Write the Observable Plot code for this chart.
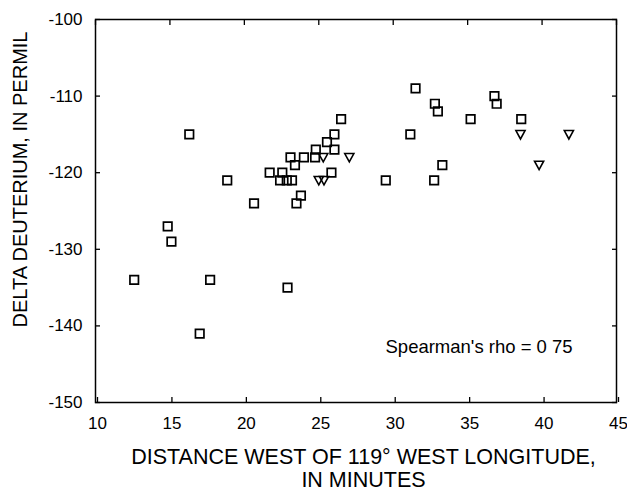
<!DOCTYPE html>
<html>
<head>
<meta charset="utf-8">
<script src="https://cdn.jsdelivr.net/npm/d3@7"></script>
<script src="https://cdn.jsdelivr.net/npm/@observablehq/plot@0.6"></script>
<style>
  html, body { margin: 0; padding: 0; background: #fff; }
  #chart { width: 627px; height: 496px; overflow: hidden; }
</style>
</head>
<body>
<div id="chart"></div>
<script>
// Squares (open)
const sqX = [12.6, 14.85, 15.1, 16.3, 17.0, 17.7, 18.85, 20.65, 21.7, 22.55, 22.4, 22.85, 23.2, 22.9, 23.1, 23.4, 23.5, 23.8, 24.0, 24.75, 24.8, 25.55, 25.85, 26.05, 26.05, 26.5, 29.5, 31.15, 31.5, 32.75, 32.8, 33.0, 33.3, 35.2, 36.8, 36.95, 38.6];
const sqY = [-134, -127, -129, -115, -141, -134, -121, -124, -120, -120, -121, -121, -121, -135, -118, -119, -124, -123, -118, -118, -117, -116, -120, -115, -117, -113, -121, -115, -109, -121, -111, -112, -119, -113, -110, -111, -113];
// Inverted triangles (open)
const triX = [25.0, 25.35, 25.3, 27.05, 38.55, 39.8, 41.8];
const triY = [-121, -121, -118, -118, -115, -119, -115];

const xTicks = [10, 15, 20, 25, 30, 35, 40, 45];
const yTicks = [-150, -140, -130, -120, -110, -100];

const xTitle = "DISTANCE WEST OF 119° WEST LONGITUDE,\nIN MINUTES";
const yTitle = "DELTA DEUTERIUM, IN PERMIL";
const note = "Spearman's rho = 0 75";

const squares = sqX.map((x, i) => ({x, y: sqY[i]}));
const triangles = triX.map((x, i) => ({x, y: triY[i]}));

const triangleDown = {
  draw(context, size) {
    const r = Math.sqrt(size / Math.PI);
    context.moveTo(-0.95 * r, -0.8 * r);
    context.lineTo(0.95 * r, -0.8 * r);
    context.lineTo(0, 0.95 * r);
    context.closePath();
  }
};

const font = "'Liberation Sans', Arial, Helvetica, sans-serif";

const chart = Plot.plot({
  width: 627,
  height: 496,
  marginLeft: 95,
  marginRight: 11,
  marginTop: 19,
  marginBottom: 94,
  x: {domain: [10, 45]},
  y: {domain: [-150, -100]},
  style: {fontFamily: font, background: "#fff", color: "#000"},
  marks: [
    Plot.axisX(xTicks, {anchor: "bottom", tickSize: -5, tickPadding: 19, dx: 2, fontSize: 17, strokeWidth: 1.3, tickFormat: d => String(d), label: null}),
    Plot.axisX(xTicks, {anchor: "top", tickSize: -5, strokeWidth: 1.3, tickFormat: () => "", label: null}),
    Plot.axisY(yTicks, {anchor: "left", tickSize: -5, tickPadding: 18, fontSize: 17, strokeWidth: 1.3, tickFormat: d => String(d), label: null}),
    Plot.axisY(yTicks, {anchor: "right", tickSize: -5, strokeWidth: 1.3, tickFormat: () => "", label: null}),
    Plot.frame({stroke: "#000", strokeWidth: 1.5}),
    Plot.dot(squares, {x: "x", y: "y", symbol: "square", r: 4.8, stroke: "#000", strokeWidth: 1.7, fill: "none"}),
    Plot.dot(triangles, {x: "x", y: "y", symbol: triangleDown, r: 4.8, stroke: "#000", strokeWidth: 1.6, fill: "none"}),
    Plot.text([note], {frameAnchor: "bottom-right", textAnchor: "start", dx: -231, dy: -50, fontSize: 18.5, fill: "#000"}),
    Plot.text([xTitle], {frameAnchor: "bottom", textAnchor: "middle", lineAnchor: "top", dx: 7.5, dy: 45, fontSize: 21.5, lineHeight: 1.08, fill: "#000"}),
    Plot.text([yTitle], {frameAnchor: "left", textAnchor: "middle", rotate: -90, dx: -75, dy: -31.5, fontSize: 20, fill: "#000"})
  ]
});

document.getElementById("chart").appendChild(chart);
</script>
</body>
</html>
